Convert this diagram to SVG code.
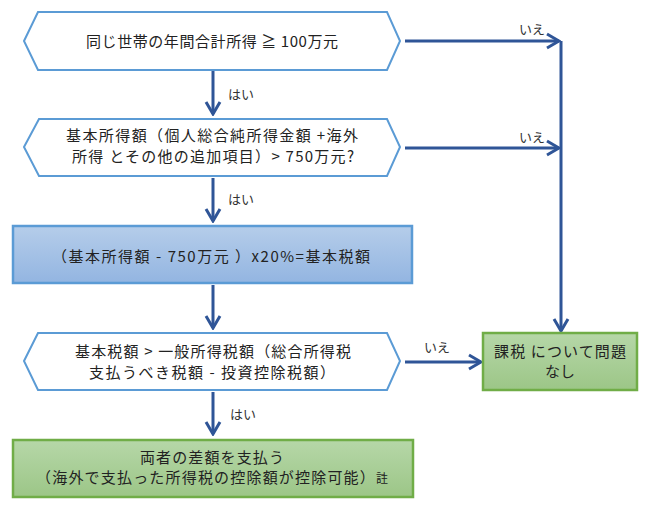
<svg xmlns="http://www.w3.org/2000/svg" width="651" height="512" viewBox="0 0 651 512">
<style>
.hex{fill:#ffffff;stroke:#5b9bd5;stroke-width:2}
.blue{fill:url(#gBlue);stroke:#5b9bd5;stroke-width:2.5}
.green{fill:url(#gGreen);stroke:#70ad47;stroke-width:2.5}
.t{font-family:"Noto Sans CJK JP","Liberation Sans",sans-serif;font-size:15px;fill:#222;text-anchor:middle}
.lbl{font-family:"Noto Sans CJK JP","Liberation Sans",sans-serif;font-size:13px;fill:#333}
.c{fill:none;stroke:#2f5597;stroke-width:3;marker-end:url(#ah)}
</style>
<defs>
<linearGradient id="gBlue" x1="0" y1="0" x2="0" y2="1">
<stop offset="0" stop-color="#b5cdea"/>
<stop offset="1" stop-color="#93b5e1"/>
</linearGradient>
<linearGradient id="gGreen" x1="0" y1="0" x2="0" y2="1">
<stop offset="0" stop-color="#b6d7a8"/>
<stop offset="1" stop-color="#9cc687"/>
</linearGradient>
<marker id="ah" viewBox="-15 -9 17 18" refX="0" refY="0" markerWidth="17" markerHeight="18" markerUnits="userSpaceOnUse" orient="auto">
<path d="M-12,-7 L0,0 L-12,7" fill="none" stroke="#2f5597" stroke-width="3" stroke-linejoin="miter"/>
</marker>
</defs>
<rect x="0" y="0" width="651" height="512" fill="#ffffff"/>

<g id="connectors">
<path class="c" d="M213,71 L213,114"/>
<path class="c" d="M213,178 L213,221"/>
<path class="c" d="M213,285 L213,328"/>
<path class="c" d="M213,392 L213,434"/>
<path class="c" d="M405,41 L559,41"/>
<path class="c" d="M405,148 L559,148"/>
<path class="c" d="M561,41 L561,331"/>
<path class="c" d="M405,362 L481,362"/>
<text class="lbl" x="228" y="99">はい</text>
<text class="lbl" x="228" y="204">はい</text>
<text class="lbl" x="230" y="419">はい</text>
<text class="lbl" x="519" y="34">いえ</text>
<text class="lbl" x="519" y="142">いえ</text>
<text class="lbl" x="424" y="352">いえ</text>
</g>

<g id="n1">
<polygon class="hex" points="24,41 38,12 387,12 400,41 387,70 38,70"/>
<text class="t" x="212" y="47" textLength="252" lengthAdjust="spacing">同じ世帯の年間合計所得 ≧ 100万元</text>
</g>

<g id="n2">
<polygon class="hex" points="24,147 39,119 387,119 400,147 387,176 39,176"/>
<text class="t" x="212" y="141" textLength="292" lengthAdjust="spacing">基本所得額（個人総合純所得金額 +海外</text>
<text class="t" x="213" y="162" textLength="282" lengthAdjust="spacing">所得 とその他の追加項目）&gt; 750万元?</text>
</g>

<g id="n3">
<rect class="blue" x="13" y="226" width="399" height="57"/>
<text class="t" x="211" y="262" textLength="318" lengthAdjust="spacing">（基本所得額 -  750万元 ）x20%=基本税額</text>
</g>

<g id="n4">
<polygon class="hex" points="24,361 38,333 387,333 400,361 387,390 38,390"/>
<text class="t" x="213" y="357" textLength="276" lengthAdjust="spacing">基本税額 &gt; 一般所得税額（総合所得税</text>
<text class="t" x="212" y="378" textLength="246" lengthAdjust="spacing">支払うべき税額 - 投資控除税額）</text>
</g>

<g id="n5">
<rect class="green" x="483" y="333" width="154" height="57"/>
<text class="t" x="560" y="357" textLength="132" lengthAdjust="spacing">課税 について問題</text>
<text class="t" x="560" y="377">なし</text>
</g>

<g id="n6">
<rect class="green" x="13" y="440" width="400" height="57"/>
<text class="t" x="212" y="463" textLength="144" lengthAdjust="spacing">両者の差額を支払う</text>
<text class="t" x="212" y="483" textLength="352" lengthAdjust="spacing">（海外で支払った所得税の控除額が控除可能）<tspan font-size="12px">註</tspan></text>
</g>
</svg>
